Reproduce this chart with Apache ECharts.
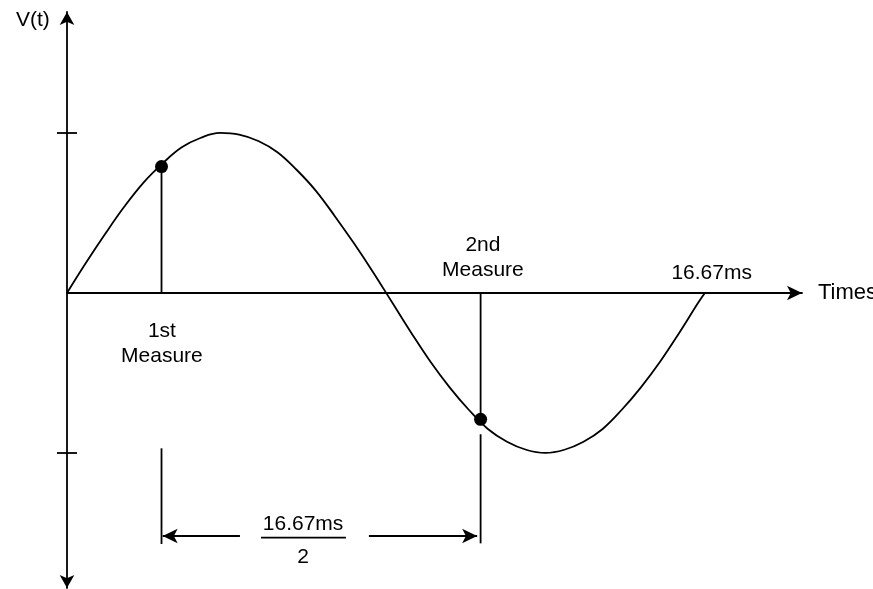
<!DOCTYPE html>
<html>
<head>
<meta charset="utf-8">
<script src="https://cdn.jsdelivr.net/npm/echarts@6/dist/echarts.min.js"></script>
<style>
  html, body { margin: 0; padding: 0; background: #fff; }
  #main { width: 873px; height: 589px; }
</style>
</head>
<body>
<div id="main"></div>
<script>
// one period of the waveform (ms, normalised volts), read every 0.5 ms
var timeMs = [0, 0.5, 1, 1.5, 2, 2.5, 3, 3.5, 4, 4.5, 5, 5.5, 6, 6.5, 7, 7.5, 8, 8.5,
  9, 9.5, 10, 10.5, 11, 11.5, 12, 12.5, 13, 13.5, 14, 14.5, 15, 15.5, 16, 16.5, 16.67];
var voltage = [0, 0.19, 0.37, 0.54, 0.69, 0.81, 0.91, 0.97, 1.0, 0.99, 0.95, 0.88, 0.77, 0.64, 0.48, 0.31, 0.13, -0.06,
  -0.25, -0.43, -0.59, -0.73, -0.85, -0.93, -0.98, -1.0, -0.98, -0.93, -0.85, -0.73, -0.59, -0.43, -0.25, -0.06, 0];

// the two samples
var measureT = [2.47, 10.81];
var measureV = [0.79, -0.79];
var measureNames = ['1st\nMeasure', '2nd\nMeasure'];

// marks on the voltage axis
var yTicks = [1, -1];

// dimension line under the plot
var dimY = -1.519;
var leftArrow = [4.52, 2.50];
var rightArrow = [7.89, 10.72];
var fractionBar = [5.07, 7.29];
var extLeft = [-0.971, -1.569];
var extRight = [-0.883, -1.565];

var chartDom = document.getElementById('main');
var myChart = echarts.init(chartDom);

var font = { fontFamily: '"Liberation Sans", Arial, sans-serif', fontSize: 21, color: '#000' };

function seg(a, b) {
  return {
    type: 'line', data: [a, b], symbol: 'none', clip: false, silent: true,
    lineStyle: { color: '#000', width: 1.8 }
  };
}

function textAt(x, y, txt) {
  return {
    type: 'scatter', data: [[x, y]], symbolSize: 0, clip: false, silent: true,
    itemStyle: { opacity: 1 },
    label: Object.assign({
      show: true, position: 'inside', formatter: txt, lineHeight: 25,
      align: 'center', verticalAlign: 'middle', textBorderWidth: 0, opacity: 1
    }, font)
  };
}

var series = [
  {
    type: 'line',
    data: timeMs.map(function (t, i) { return [t, voltage[i]]; }),
    smooth: 0.4,
    symbol: 'none',
    silent: true,
    lineStyle: { color: '#000', width: 1.8 },
    markLine: {
      silent: true,
      symbol: ['none', 'arrow'],
      symbolSize: [11, 15],
      label: { show: false },
      lineStyle: { color: '#000', width: 1.8, type: 'solid' },
      data: [
        [{ coord: [leftArrow[0], dimY] }, { coord: [leftArrow[1], dimY] }],
        [{ coord: [rightArrow[0], dimY] }, { coord: [rightArrow[1], dimY] }]
      ]
    }
  },
  {
    type: 'scatter',
    data: measureT.map(function (t, i) { return [t, measureV[i]]; }),
    symbolSize: 13,
    itemStyle: { color: '#000', opacity: 1 },
    silent: true,
    z: 5
  }
];

// drop lines from the axis to each sample
measureT.forEach(function (t, i) {
  series.push(seg([t, 0], [t, measureV[i]]));
});
// extension lines of the dimension
series.push(seg([measureT[0], extLeft[0]], [measureT[0], extLeft[1]]));
series.push(seg([measureT[1], extRight[0]], [measureT[1], extRight[1]]));
// fraction bar
series.push(seg([fractionBar[0], -1.529], [fractionBar[1], -1.529]));

// texts
series.push(textAt(-0.89, 1.706, 'V(t)'));
series.push(textAt(2.48, -0.319, measureNames[0]));
series.push(textAt(10.87, 0.222, measureNames[1]));
series.push(textAt(16.85, 0.125, '16.67ms'));
series.push(textAt(6.17, -1.444, '16.67ms'));
series.push(textAt(6.17, -1.65, '2'));

var yBase = {
  type: 'value',
  min: -1.844,
  max: 1.756,
  position: 'left',
  axisLabel: { show: false },
  splitLine: { show: false }
};

var option = {
  animation: false,
  backgroundColor: '#fff',
  grid: { left: 67, top: 12, width: 735, height: 576, outerBoundsMode: 'none', containLabel: false },
  xAxis: {
    type: 'value',
    min: 0,
    max: 19.21,
    name: 'Times',
    nameLocation: 'end',
    nameGap: 16,
    nameTextStyle: Object.assign({}, font, { fontSize: 22 }),
    axisLine: {
      onZero: true,
      symbol: ['none', 'arrow'],
      symbolSize: [11, 15],
      lineStyle: { color: '#000', width: 1.8 }
    },
    axisTick: { show: false },
    axisLabel: { show: false },
    splitLine: { show: false }
  },
  yAxis: [
    Object.assign({}, yBase, {
      axisLine: {
        show: true,
        onZero: false,
        symbol: ['arrow', 'arrow'],
        symbolSize: [11, 13],
        lineStyle: { color: '#000', width: 1.8 }
      },
      axisTick: {
        show: true, customValues: yTicks, length: 10, inside: false,
        lineStyle: { color: '#000', width: 1.8 }
      }
    }),
    Object.assign({}, yBase, {
      axisLine: { show: false, onZero: false },
      axisTick: {
        show: true, customValues: yTicks, length: 10, inside: true,
        lineStyle: { color: '#000', width: 1.8 }
      }
    })
  ],
  series: series
};

myChart.setOption(option);
</script>
</body>
</html>
